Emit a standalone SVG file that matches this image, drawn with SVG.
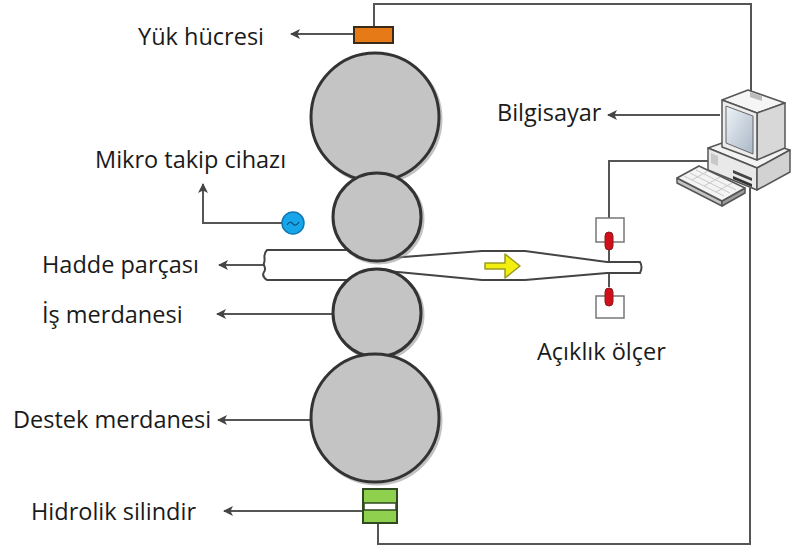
<svg xmlns="http://www.w3.org/2000/svg" width="793" height="552" viewBox="0 0 793 552">
  <defs>
    <marker id="arrow" viewBox="0 0 10 10" refX="9" refY="5" markerWidth="10" markerHeight="10" markerUnits="userSpaceOnUse" orient="auto">
      <path d="M0,0 L10,5 L0,10 L2.5,5 Z" fill="#444"/>
    </marker>
    <linearGradient id="screen" x1="0" y1="0" x2="1" y2="1">
      <stop offset="0" stop-color="#eef3f8"/>
      <stop offset="1" stop-color="#a9b7c6"/>
    </linearGradient>
    <style>
      .label { font-family: "Open Sans", "Liberation Sans", sans-serif; font-size: 23.5px; fill: #1a1a1a; }
      .wire { fill: none; stroke: #555; stroke-width: 2; }
      .lead { fill: none; stroke: #555; stroke-width: 2; marker-end: url(#arrow); }
      .roll { fill: #c4c4c4; stroke: #333; stroke-width: 3; }
      .shadow { fill: none; stroke: #999; stroke-width: 3; opacity: 0.6; }
      .pc { stroke: #555; stroke-width: 1.5; stroke-linejoin: round; }
      .gaugebox { fill: #fff; stroke: #777; stroke-width: 1.5; }
      .sensor { fill: #d0101a; stroke: #8a1a1a; stroke-width: 1; }
    </style>
  </defs>

  <rect width="793" height="552" fill="#fff"/>

  <!-- connectors: signal wires and label leaders -->
  <g id="connectors">
    <polyline class="wire" points="374,27 374,4 751,4 751,92"/>
    <polyline class="wire" points="609,218 609,161 709,161"/>
    <polyline class="wire" points="378,517 378,544 750,544 750,188"/>
    <line class="lead" x1="353" y1="34" x2="291" y2="34"/>
    <polyline class="lead" points="282,223 203,223 203,184"/>
    <line class="lead" x1="264" y1="265" x2="219" y2="265"/>
    <line class="lead" x1="333" y1="314" x2="217" y2="314"/>
    <line class="lead" x1="311" y1="420" x2="218" y2="420"/>
    <line class="lead" x1="362" y1="511" x2="224" y2="511"/>
    <line class="lead" x1="720" y1="115" x2="608" y2="115"/>
    <line class="wire" x1="609" y1="250" x2="609" y2="262" stroke-width="1"/>
    <line class="wire" x1="609" y1="273" x2="609" y2="287" stroke-width="1"/>
  </g>

  <!-- rolled strip -->
  <g id="strip">
    <path d="M267,250 L350,250 L377,259 L482,251 L525,251 L607,262 L640,262 Q643,267 640,273 L607,273 L525,280 L482,280 L377,270 L350,280 L267,280 C264,278 262,275 264,272 C267,268 263,266 264,263 C266,259 262,255 267,250 Z" fill="#fff" stroke="#444" stroke-width="2"/>
    <!-- rolling direction -->
    <path d="M485,263 L505,263 L505,254 L520,266 L505,278 L505,269 L485,269 Z" fill="#f2ee10" stroke="#9a9a20" stroke-width="1.5" stroke-linejoin="round"/>
  </g>

  <!-- top backup roll -->
  <g id="top-backup-roll">
    <circle class="shadow" cx="377" cy="119" r="64"/>
    <circle class="roll" cx="375" cy="117" r="64"/>
  </g>

  <!-- top work roll -->
  <g id="top-work-roll">
    <circle class="shadow" cx="379" cy="219" r="44"/>
    <circle class="roll" cx="377" cy="217" r="44"/>
  </g>

  <!-- bottom work roll -->
  <g id="bottom-work-roll">
    <circle class="shadow" cx="379" cy="315" r="44"/>
    <circle class="roll" cx="377" cy="313" r="44"/>
  </g>

  <!-- bottom backup roll -->
  <g id="bottom-backup-roll">
    <circle class="shadow" cx="377" cy="420" r="64"/>
    <circle class="roll" cx="375" cy="418" r="64"/>
  </g>

  <!-- load cell -->
  <g id="load-cell">
    <rect x="354" y="27" width="39" height="16" fill="#e57a17" stroke="#3a2a1a" stroke-width="2"/>
  </g>

  <!-- hydraulic cylinder -->
  <g id="hydraulic-cylinder">
    <rect x="363" y="489" width="34" height="34" fill="#8fd14f" stroke="#2f4a22" stroke-width="2"/>
    <rect x="364" y="503" width="32" height="7" fill="#fff" stroke="#2f4a22" stroke-width="1.5"/>
  </g>

  <!-- micro tracking device -->
  <g id="micro-tracker">
    <circle cx="293" cy="223" r="11" fill="#18a6ea" stroke="#1078b3" stroke-width="1.5"/>
    <path d="M287,225 q3,-5 6,-1 q3,3 6,-2" fill="none" stroke="#0b4f7a" stroke-width="1.2"/>
  </g>

  <!-- thickness gauge -->
  <g id="thickness-gauge">
    <rect class="gaugebox" x="596" y="218" width="28" height="24"/>
    <rect class="sensor" x="605" y="232" width="8" height="18" rx="4"/>
    <rect class="gaugebox" x="596" y="296" width="28" height="22"/>
    <rect class="sensor" x="605" y="288" width="8" height="18" rx="4"/>
  </g>

  <!-- computer -->
  <g id="computer">
    <!-- system unit -->
    <polygon class="pc" points="708,148 742,136 790,150 757,168" fill="#f3f3f3"/>
    <polygon class="pc" points="708,148 757,168 757,190 708,170" fill="#e9e9e9"/>
    <polygon class="pc" points="757,168 790,150 790,172 757,190" fill="#d2d2d2"/>
    <polygon points="711,153 718,156 718,166 711,163" fill="#c8c8c8"/>
    <polygon points="733,170 752,178 752,181 733,173" fill="#444"/>
    <polygon points="733,176 752,184 752,187 733,179" fill="#333"/>
    <!-- monitor -->
    <polygon class="pc" points="722,100 748,90 785,103 757,113" fill="#f5f5f5"/>
    <polygon points="750,92 762,96 762,101 750,97" fill="#bbb"/>
    <polygon class="pc" points="757,113 785,103 785,148 757,160" fill="#d8d8d8"/>
    <polygon class="pc" points="722,100 757,113 757,160 722,147" fill="#ececec"/>
    <polygon points="726,106 753,116 753,154 726,143" fill="url(#screen)" stroke="#666" stroke-width="1"/>
    <!-- keyboard -->
    <polygon class="pc" points="677,178 722,201 722,206 677,183" fill="#c4c4c4"/>
    <polygon class="pc" points="722,201 745,188 745,193 722,206" fill="#9c9c9c"/>
    <polygon class="pc" points="677,178 699,166 745,188 722,201" fill="#f4f4f4"/>
    <g stroke="#c8c8c8" stroke-width="1" fill="none">
      <line x1="684" y1="176" x2="724" y2="196"/>
      <line x1="690" y1="173" x2="730" y2="193"/>
      <line x1="696" y1="170" x2="736" y2="190"/>
      <line x1="692" y1="180" x2="708" y2="171"/>
      <line x1="704" y1="186" x2="720" y2="177"/>
      <line x1="716" y1="192" x2="732" y2="183"/>
    </g>
  </g>

  <!-- labels -->
  <g id="labels">
    <text class="label" x="138" y="45">Yük hücresi</text>
    <text class="label" x="95" y="168">Mikro takip cihazı</text>
    <text class="label" x="42" y="273">Hadde parçası</text>
    <text class="label" x="42" y="323">İş merdanesi</text>
    <text class="label" x="13" y="428">Destek merdanesi</text>
    <text class="label" x="31" y="520">Hidrolik silindir</text>
    <text class="label" x="497" y="121">Bilgisayar</text>
    <text class="label" x="537" y="360">Açıklık ölçer</text>
  </g>
</svg>
